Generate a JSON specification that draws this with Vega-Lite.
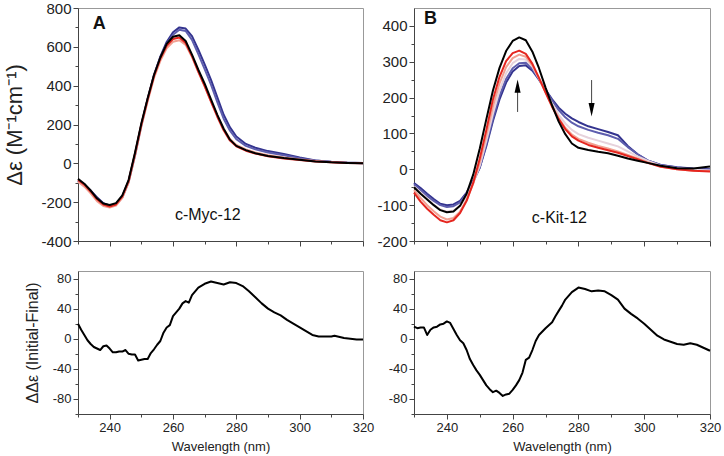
{
"$schema": "https://vega.github.io/schema/vega-lite/v6.json",
"padding": {"left": 3, "top": 0, "right": 2, "bottom": 2},
"background": "white",
"config": {"view": {"stroke": "#999999", "strokeWidth": 1}, "font": "Liberation Sans",
  "axis": {"grid": false, "domainColor": "#444444", "tickColor": "#444444", "labelColor": "#222222", "titleColor": "#222222", "titleFontWeight": "normal", "labelFlush": false, "labelOverlap": false, "labelPadding": 2}},
"datasets": {
"A": [
{"s":"b1","x":230,"y":-90},{"s":"b1","x":232,"y":-110},{"s":"b1","x":234,"y":-140},{"s":"b1","x":236,"y":-175},{"s":"b1","x":238,"y":-205},{"s":"b1","x":240,"y":-218},{"s":"b1","x":242,"y":-212},{"s":"b1","x":244,"y":-175},{"s":"b1","x":246,"y":-95},{"s":"b1","x":248,"y":40},{"s":"b1","x":250,"y":195},{"s":"b1","x":252,"y":330},{"s":"b1","x":254,"y":455},{"s":"b1","x":256,"y":550},{"s":"b1","x":258,"y":625},{"s":"b1","x":260,"y":675},{"s":"b1","x":262,"y":700},{"s":"b1","x":264,"y":694},{"s":"b1","x":266,"y":655},{"s":"b1","x":268,"y":585},{"s":"b1","x":270,"y":510},{"s":"b1","x":272,"y":430},{"s":"b1","x":274,"y":340},{"s":"b1","x":276,"y":250},{"s":"b1","x":278,"y":185},{"s":"b1","x":280,"y":138},{"s":"b1","x":283,"y":100},{"s":"b1","x":286,"y":80},{"s":"b1","x":290,"y":63},{"s":"b1","x":295,"y":48},{"s":"b1","x":300,"y":30},{"s":"b1","x":305,"y":15},{"s":"b1","x":310,"y":8},{"s":"b1","x":315,"y":4},{"s":"b1","x":320,"y":2},
{"s":"b2","x":230,"y":-92},{"s":"b2","x":232,"y":-112},{"s":"b2","x":234,"y":-143},{"s":"b2","x":236,"y":-178},{"s":"b2","x":238,"y":-207},{"s":"b2","x":240,"y":-218},{"s":"b2","x":242,"y":-210},{"s":"b2","x":244,"y":-170},{"s":"b2","x":246,"y":-90},{"s":"b2","x":248,"y":45},{"s":"b2","x":250,"y":198},{"s":"b2","x":252,"y":330},{"s":"b2","x":254,"y":452},{"s":"b2","x":256,"y":545},{"s":"b2","x":258,"y":615},{"s":"b2","x":260,"y":662},{"s":"b2","x":262,"y":688},{"s":"b2","x":264,"y":682},{"s":"b2","x":266,"y":636},{"s":"b2","x":268,"y":562},{"s":"b2","x":270,"y":485},{"s":"b2","x":272,"y":405},{"s":"b2","x":274,"y":315},{"s":"b2","x":276,"y":230},{"s":"b2","x":278,"y":168},{"s":"b2","x":280,"y":124},{"s":"b2","x":283,"y":90},{"s":"b2","x":286,"y":72},{"s":"b2","x":290,"y":56},{"s":"b2","x":295,"y":42},{"s":"b2","x":300,"y":26},{"s":"b2","x":305,"y":14},{"s":"b2","x":310,"y":7},{"s":"b2","x":315,"y":3},{"s":"b2","x":320,"y":1},
{"s":"r1","x":230,"y":-95},{"s":"r1","x":232,"y":-120},{"s":"r1","x":234,"y":-155},{"s":"r1","x":236,"y":-195},{"s":"r1","x":238,"y":-220},{"s":"r1","x":240,"y":-228},{"s":"r1","x":242,"y":-218},{"s":"r1","x":244,"y":-178},{"s":"r1","x":246,"y":-98},{"s":"r1","x":248,"y":40},{"s":"r1","x":250,"y":190},{"s":"r1","x":252,"y":320},{"s":"r1","x":254,"y":440},{"s":"r1","x":256,"y":528},{"s":"r1","x":258,"y":592},{"s":"r1","x":260,"y":626},{"s":"r1","x":262,"y":634},{"s":"r1","x":264,"y":610},{"s":"r1","x":266,"y":548},{"s":"r1","x":268,"y":470},{"s":"r1","x":270,"y":398},{"s":"r1","x":272,"y":320},{"s":"r1","x":274,"y":245},{"s":"r1","x":276,"y":178},{"s":"r1","x":278,"y":125},{"s":"r1","x":280,"y":95},{"s":"r1","x":283,"y":72},{"s":"r1","x":286,"y":56},{"s":"r1","x":290,"y":42},{"s":"r1","x":295,"y":30},{"s":"r1","x":300,"y":20},{"s":"r1","x":305,"y":12},{"s":"r1","x":310,"y":6},{"s":"r1","x":315,"y":3},{"s":"r1","x":320,"y":2},
{"s":"r2","x":230,"y":-85},{"s":"r2","x":232,"y":-110},{"s":"r2","x":234,"y":-145},{"s":"r2","x":236,"y":-185},{"s":"r2","x":238,"y":-212},{"s":"r2","x":240,"y":-222},{"s":"r2","x":242,"y":-212},{"s":"r2","x":244,"y":-170},{"s":"r2","x":246,"y":-90},{"s":"r2","x":248,"y":50},{"s":"r2","x":250,"y":200},{"s":"r2","x":252,"y":330},{"s":"r2","x":254,"y":450},{"s":"r2","x":256,"y":540},{"s":"r2","x":258,"y":605},{"s":"r2","x":260,"y":640},{"s":"r2","x":262,"y":648},{"s":"r2","x":264,"y":620},{"s":"r2","x":266,"y":552},{"s":"r2","x":268,"y":472},{"s":"r2","x":270,"y":398},{"s":"r2","x":272,"y":318},{"s":"r2","x":274,"y":240},{"s":"r2","x":276,"y":170},{"s":"r2","x":278,"y":117},{"s":"r2","x":280,"y":88},{"s":"r2","x":283,"y":65},{"s":"r2","x":286,"y":50},{"s":"r2","x":290,"y":36},{"s":"r2","x":295,"y":25},{"s":"r2","x":300,"y":17},{"s":"r2","x":305,"y":10},{"s":"r2","x":310,"y":5},{"s":"r2","x":315,"y":2},{"s":"r2","x":320,"y":0},
{"s":"k","x":230,"y":-80},{"s":"k","x":232,"y":-105},{"s":"k","x":234,"y":-140},{"s":"k","x":236,"y":-180},{"s":"k","x":238,"y":-207},{"s":"k","x":240,"y":-215},{"s":"k","x":242,"y":-205},{"s":"k","x":244,"y":-165},{"s":"k","x":246,"y":-85},{"s":"k","x":248,"y":55},{"s":"k","x":250,"y":205},{"s":"k","x":252,"y":335},{"s":"k","x":254,"y":455},{"s":"k","x":256,"y":545},{"s":"k","x":258,"y":615},{"s":"k","x":260,"y":652},{"s":"k","x":262,"y":660},{"s":"k","x":264,"y":630},{"s":"k","x":266,"y":560},{"s":"k","x":268,"y":482},{"s":"k","x":270,"y":410},{"s":"k","x":272,"y":330},{"s":"k","x":274,"y":250},{"s":"k","x":276,"y":178},{"s":"k","x":278,"y":122},{"s":"k","x":280,"y":90},{"s":"k","x":283,"y":68},{"s":"k","x":286,"y":52},{"s":"k","x":290,"y":38},{"s":"k","x":295,"y":27},{"s":"k","x":300,"y":18},{"s":"k","x":305,"y":10},{"s":"k","x":310,"y":5},{"s":"k","x":315,"y":2},{"s":"k","x":320,"y":0}
],
"B": [
{"s":"b1","x":230,"y":-38},{"s":"b1","x":232,"y":-52},{"s":"b1","x":234,"y":-68},{"s":"b1","x":236,"y":-83},{"s":"b1","x":238,"y":-96},{"s":"b1","x":240,"y":-100},{"s":"b1","x":242,"y":-98},{"s":"b1","x":244,"y":-88},{"s":"b1","x":246,"y":-65},{"s":"b1","x":248,"y":-32},{"s":"b1","x":250,"y":5},{"s":"b1","x":252,"y":65},{"s":"b1","x":254,"y":135},{"s":"b1","x":256,"y":195},{"s":"b1","x":258,"y":242},{"s":"b1","x":260,"y":273},{"s":"b1","x":262,"y":288},{"s":"b1","x":264,"y":290},{"s":"b1","x":266,"y":275},{"s":"b1","x":268,"y":250},{"s":"b1","x":270,"y":222},{"s":"b1","x":272,"y":195},{"s":"b1","x":274,"y":172},{"s":"b1","x":276,"y":155},{"s":"b1","x":278,"y":142},{"s":"b1","x":280,"y":132},{"s":"b1","x":283,"y":120},{"s":"b1","x":286,"y":112},{"s":"b1","x":289,"y":104},{"s":"b1","x":292,"y":95},{"s":"b1","x":295,"y":65},{"s":"b1","x":298,"y":42},{"s":"b1","x":301,"y":25},{"s":"b1","x":305,"y":12},{"s":"b1","x":310,"y":6},{"s":"b1","x":315,"y":2},{"s":"b1","x":320,"y":0},
{"s":"b2","x":230,"y":-42},{"s":"b2","x":232,"y":-58},{"s":"b2","x":234,"y":-74},{"s":"b2","x":236,"y":-88},{"s":"b2","x":238,"y":-100},{"s":"b2","x":240,"y":-105},{"s":"b2","x":242,"y":-103},{"s":"b2","x":244,"y":-92},{"s":"b2","x":246,"y":-68},{"s":"b2","x":248,"y":-35},{"s":"b2","x":250,"y":5},{"s":"b2","x":252,"y":70},{"s":"b2","x":254,"y":142},{"s":"b2","x":256,"y":205},{"s":"b2","x":258,"y":252},{"s":"b2","x":260,"y":282},{"s":"b2","x":262,"y":296},{"s":"b2","x":264,"y":297},{"s":"b2","x":266,"y":280},{"s":"b2","x":268,"y":252},{"s":"b2","x":270,"y":222},{"s":"b2","x":272,"y":192},{"s":"b2","x":274,"y":165},{"s":"b2","x":276,"y":145},{"s":"b2","x":278,"y":130},{"s":"b2","x":280,"y":120},{"s":"b2","x":283,"y":110},{"s":"b2","x":286,"y":102},{"s":"b2","x":289,"y":95},{"s":"b2","x":292,"y":85},{"s":"b2","x":295,"y":62},{"s":"b2","x":298,"y":42},{"s":"b2","x":301,"y":25},{"s":"b2","x":305,"y":12},{"s":"b2","x":310,"y":5},{"s":"b2","x":315,"y":1},{"s":"b2","x":320,"y":-1},
{"s":"p","x":230,"y":-48},{"s":"p","x":232,"y":-65},{"s":"p","x":234,"y":-82},{"s":"p","x":236,"y":-98},{"s":"p","x":238,"y":-112},{"s":"p","x":240,"y":-118},{"s":"p","x":242,"y":-115},{"s":"p","x":244,"y":-102},{"s":"p","x":246,"y":-75},{"s":"p","x":248,"y":-38},{"s":"p","x":250,"y":10},{"s":"p","x":252,"y":80},{"s":"p","x":254,"y":155},{"s":"p","x":256,"y":220},{"s":"p","x":258,"y":268},{"s":"p","x":260,"y":296},{"s":"p","x":262,"y":308},{"s":"p","x":264,"y":306},{"s":"p","x":266,"y":286},{"s":"p","x":268,"y":253},{"s":"p","x":270,"y":218},{"s":"p","x":272,"y":183},{"s":"p","x":274,"y":152},{"s":"p","x":276,"y":128},{"s":"p","x":278,"y":110},{"s":"p","x":280,"y":98},{"s":"p","x":283,"y":88},{"s":"p","x":286,"y":80},{"s":"p","x":289,"y":72},{"s":"p","x":292,"y":64},{"s":"p","x":295,"y":50},{"s":"p","x":298,"y":36},{"s":"p","x":301,"y":24},{"s":"p","x":305,"y":10},{"s":"p","x":310,"y":3},{"s":"p","x":315,"y":-1},{"s":"p","x":320,"y":-3},
{"s":"r1","x":230,"y":-58},{"s":"r1","x":232,"y":-80},{"s":"r1","x":234,"y":-100},{"s":"r1","x":236,"y":-117},{"s":"r1","x":238,"y":-132},{"s":"r1","x":240,"y":-140},{"s":"r1","x":242,"y":-136},{"s":"r1","x":244,"y":-118},{"s":"r1","x":246,"y":-85},{"s":"r1","x":248,"y":-40},{"s":"r1","x":250,"y":20},{"s":"r1","x":252,"y":95},{"s":"r1","x":254,"y":175},{"s":"r1","x":256,"y":240},{"s":"r1","x":258,"y":285},{"s":"r1","x":260,"y":310},{"s":"r1","x":262,"y":320},{"s":"r1","x":264,"y":314},{"s":"r1","x":266,"y":290},{"s":"r1","x":268,"y":254},{"s":"r1","x":270,"y":215},{"s":"r1","x":272,"y":177},{"s":"r1","x":274,"y":143},{"s":"r1","x":276,"y":116},{"s":"r1","x":278,"y":97},{"s":"r1","x":280,"y":85},{"s":"r1","x":283,"y":74},{"s":"r1","x":286,"y":65},{"s":"r1","x":289,"y":58},{"s":"r1","x":292,"y":50},{"s":"r1","x":295,"y":40},{"s":"r1","x":298,"y":30},{"s":"r1","x":301,"y":20},{"s":"r1","x":305,"y":8},{"s":"r1","x":310,"y":0},{"s":"r1","x":315,"y":-4},{"s":"r1","x":320,"y":-5},
{"s":"r2","x":230,"y":-65},{"s":"r2","x":232,"y":-90},{"s":"r2","x":234,"y":-110},{"s":"r2","x":236,"y":-127},{"s":"r2","x":238,"y":-142},{"s":"r2","x":240,"y":-148},{"s":"r2","x":242,"y":-142},{"s":"r2","x":244,"y":-122},{"s":"r2","x":246,"y":-88},{"s":"r2","x":248,"y":-38},{"s":"r2","x":250,"y":30},{"s":"r2","x":252,"y":110},{"s":"r2","x":254,"y":195},{"s":"r2","x":256,"y":258},{"s":"r2","x":258,"y":302},{"s":"r2","x":260,"y":324},{"s":"r2","x":262,"y":331},{"s":"r2","x":264,"y":322},{"s":"r2","x":266,"y":294},{"s":"r2","x":268,"y":255},{"s":"r2","x":270,"y":214},{"s":"r2","x":272,"y":174},{"s":"r2","x":274,"y":140},{"s":"r2","x":276,"y":112},{"s":"r2","x":278,"y":92},{"s":"r2","x":280,"y":80},{"s":"r2","x":283,"y":68},{"s":"r2","x":286,"y":60},{"s":"r2","x":289,"y":53},{"s":"r2","x":292,"y":46},{"s":"r2","x":295,"y":37},{"s":"r2","x":298,"y":28},{"s":"r2","x":301,"y":18},{"s":"r2","x":305,"y":7},{"s":"r2","x":310,"y":0},{"s":"r2","x":315,"y":-4},{"s":"r2","x":320,"y":-6},
{"s":"k","x":230,"y":-50},{"s":"k","x":232,"y":-68},{"s":"k","x":234,"y":-84},{"s":"k","x":236,"y":-100},{"s":"k","x":238,"y":-114},{"s":"k","x":240,"y":-120},{"s":"k","x":242,"y":-118},{"s":"k","x":244,"y":-102},{"s":"k","x":246,"y":-68},{"s":"k","x":248,"y":-15},{"s":"k","x":250,"y":58},{"s":"k","x":252,"y":140},{"s":"k","x":254,"y":220},{"s":"k","x":256,"y":283},{"s":"k","x":258,"y":330},{"s":"k","x":260,"y":358},{"s":"k","x":262,"y":368},{"s":"k","x":264,"y":360},{"s":"k","x":266,"y":328},{"s":"k","x":268,"y":282},{"s":"k","x":270,"y":228},{"s":"k","x":272,"y":178},{"s":"k","x":274,"y":133},{"s":"k","x":276,"y":98},{"s":"k","x":278,"y":72},{"s":"k","x":280,"y":60},{"s":"k","x":283,"y":54},{"s":"k","x":286,"y":49},{"s":"k","x":289,"y":45},{"s":"k","x":292,"y":38},{"s":"k","x":295,"y":30},{"s":"k","x":298,"y":24},{"s":"k","x":301,"y":18},{"s":"k","x":305,"y":10},{"s":"k","x":310,"y":3},{"s":"k","x":315,"y":2},{"s":"k","x":320,"y":8}
],
"C": [
{"x":230,"y":20},{"x":231,"y":12},{"x":232,"y":5},{"x":233,"y":-2},{"x":234,"y":-7},{"x":235,"y":-11},{"x":236,"y":-13},{"x":237,"y":-15},{"x":238,"y":-10},{"x":239,"y":-9},{"x":240,"y":-13},{"x":241,"y":-18},{"x":242,"y":-18},{"x":243,"y":-17},{"x":244,"y":-17},{"x":245,"y":-15},{"x":246,"y":-20},{"x":247,"y":-21},{"x":248,"y":-21},{"x":249,"y":-29},{"x":250,"y":-28},{"x":251,"y":-27},{"x":252,"y":-27},{"x":253,"y":-19},{"x":254,"y":-14},{"x":255,"y":-8},{"x":256,"y":-3},{"x":257,"y":8},{"x":258,"y":15},{"x":259,"y":18},{"x":260,"y":30},{"x":261,"y":35},{"x":262,"y":40},{"x":263,"y":47},{"x":264,"y":50},{"x":265,"y":48},{"x":266,"y":58},{"x":267,"y":63},{"x":268,"y":68},{"x":270,"y":73},{"x":272,"y":76},{"x":274,"y":74},{"x":276,"y":72},{"x":278,"y":75},{"x":280,"y":74},{"x":282,"y":70},{"x":284,"y":63},{"x":286,"y":55},{"x":288,"y":47},{"x":290,"y":40},{"x":292,"y":35},{"x":294,"y":31},{"x":296,"y":25},{"x":298,"y":20},{"x":300,"y":15},{"x":302,"y":10},{"x":304,"y":5},{"x":306,"y":3},{"x":308,"y":3},{"x":310,"y":3},{"x":311,"y":4},{"x":312,"y":3},{"x":314,"y":1},{"x":316,"y":0},{"x":318,"y":-1},{"x":320,"y":-1}
],
"D": [
{"x":230,"y":16},{"x":231,"y":14},{"x":232,"y":15},{"x":233,"y":15},{"x":234,"y":5},{"x":235,"y":12},{"x":236,"y":15},{"x":237,"y":16},{"x":238,"y":19},{"x":239,"y":20},{"x":240,"y":23},{"x":241,"y":21},{"x":242,"y":13},{"x":243,"y":5},{"x":244,"y":-2},{"x":245,"y":-6},{"x":246,"y":-15},{"x":247,"y":-27},{"x":248,"y":-35},{"x":249,"y":-42},{"x":250,"y":-48},{"x":251,"y":-55},{"x":252,"y":-62},{"x":253,"y":-67},{"x":254,"y":-71},{"x":255,"y":-69},{"x":256,"y":-72},{"x":257,"y":-76},{"x":258,"y":-74},{"x":259,"y":-73},{"x":260,"y":-68},{"x":261,"y":-62},{"x":262,"y":-55},{"x":263,"y":-45},{"x":264,"y":-28},{"x":265,"y":-25},{"x":266,"y":-15},{"x":267,"y":-3},{"x":268,"y":5},{"x":270,"y":14},{"x":272,"y":22},{"x":273,"y":30},{"x":274,"y":37},{"x":275,"y":44},{"x":276,"y":52},{"x":278,"y":62},{"x":280,"y":68},{"x":282,"y":66},{"x":284,"y":63},{"x":286,"y":64},{"x":288,"y":63},{"x":290,"y":58},{"x":292,"y":52},{"x":293,"y":46},{"x":294,"y":40},{"x":296,"y":33},{"x":298,"y":27},{"x":300,"y":20},{"x":302,"y":12},{"x":304,"y":4},{"x":306,"y":-1},{"x":308,"y":-4},{"x":310,"y":-7},{"x":312,"y":-8},{"x":314,"y":-6},{"x":316,"y":-8},{"x":318,"y":-12},{"x":320,"y":-16}
],
"LAB": [
{"p":"A","x":271,"y":-266,"t":"c-Myc-12"},
{"p":"B","x":274.2,"y":-135,"t":"c-Kit-12"}
],
"LET": [
{"p":"A","x":236.7,"y":719,"t":"A"},
{"p":"B","x":235,"y":420,"t":"B"}
],
"ARR": [
{"x":261.5,"y":160,"y2":235,"d":"up"},
{"x":284,"y":249,"y2":168,"d":"down"}
],
"HEAD": [
{"x":261.5,"y":232,"d":"up"},
{"x":284,"y":166,"d":"down"}
]
},
"columns": 2,
"spacing": {"row": 20, "column": 1},
"concat": [
{
 "width": 285, "height": 233,
 "encoding": {
  "x": {"field": "x", "type": "quantitative", "scale": {"domain": [230, 320], "nice": false},
    "axis": {"values": [230,240,250,260,270,280,290,300,310,320], "labels": false, "title": null,
      "tickSize": {"condition": {"test": "datum.value % 20 == 0", "value": 5}, "value": 3}}},
  "y": {"field": "y", "type": "quantitative", "scale": {"domain": [-400, 800], "nice": false},
    "axis": {"values": [-400,-300,-200,-100,0,100,200,300,400,500,600,700,800], "labelOverlap": false,
      "labelExpr": "datum.value % 200 == 0 ? '' + datum.value : ''", "labelFontSize": 15,
      "tickSize": {"condition": {"test": "datum.value % 200 == 0", "value": 5}, "value": 3},
      "title": "Δε (M⁻¹cm⁻¹)", "titleFontSize": 22, "titlePadding": 14}}
 },
 "layer": [
  {"data": {"name": "A"}, "mark": {"type": "line", "strokeJoin": "round"},
   "encoding": {
    "color": {"field": "s", "type": "nominal", "legend": null,
      "scale": {"domain": ["b1","b2","p","r1","r2","k"], "range": ["#34348f","#5e5eae","#e6d2dc","#f2a092","#e5261f","#000000"]}},
    "strokeWidth": {"field": "s", "type": "nominal", "legend": null,
      "scale": {"domain": ["b1","b2","p","r1","r2","k"], "range": [2, 2, 2, 3, 2.5, 2]}}
   }},
  {"data": {"name": "LAB"}, "transform": [{"filter": "datum.p == 'A'"}],
   "mark": {"type": "text", "fontSize": 16, "color": "#111111"},
   "encoding": {"text": {"field": "t"}}},
  {"data": {"name": "LET"}, "transform": [{"filter": "datum.p == 'A'"}],
   "mark": {"type": "text", "fontSize": 18, "fontWeight": "bold", "color": "#111111"},
   "encoding": {"text": {"field": "t"}}}
 ]
},
{
 "width": 296, "height": 233,
 "encoding": {
  "x": {"field": "x", "type": "quantitative", "scale": {"domain": [230, 320], "nice": false},
    "axis": {"values": [230,240,250,260,270,280,290,300,310,320], "labels": false, "title": null,
      "tickSize": {"condition": {"test": "datum.value % 20 == 0", "value": 5}, "value": 3}}},
  "y": {"field": "y", "type": "quantitative", "scale": {"domain": [-200, 450], "nice": false},
    "axis": {"values": [-200,-150,-100,-50,0,50,100,150,200,250,300,350,400], "labelOverlap": false,
      "labelExpr": "datum.value % 100 == 0 ? '' + datum.value : ''", "labelFontSize": 15,
      "tickSize": {"condition": {"test": "datum.value % 100 == 0", "value": 5}, "value": 3},
      "title": null}}
 },
 "layer": [
  {"data": {"name": "B"}, "mark": {"type": "line", "strokeJoin": "round"},
   "encoding": {
    "color": {"field": "s", "type": "nominal", "legend": null,
      "scale": {"domain": ["b1","b2","p","r1","r2","k"], "range": ["#34348f","#5e5eae","#e6d2dc","#f2a092","#e5261f","#000000"]}},
    "strokeWidth": {"field": "s", "type": "nominal", "legend": null,
      "scale": {"domain": ["b1","b2","p","r1","r2","k"], "range": [2, 2, 2, 3, 2.5, 2]}}
   }},
  {"data": {"name": "ARR"}, "mark": {"type": "rule", "color": "#444444", "strokeWidth": 1},
   "encoding": {"y2": {"field": "y2"}}},
  {"data": {"name": "HEAD"}, "mark": {"type": "point", "filled": true, "color": "#000000", "opacity": 1, "size": 180},
   "encoding": {
     "shape": {"field": "d", "type": "nominal", "legend": null,
       "scale": {"domain": ["up", "down"], "range": ["M0,-1L0.45,1L-0.45,1Z", "M0,1L0.45,-1L-0.45,-1Z"]}}}},
  {"data": {"name": "LAB"}, "transform": [{"filter": "datum.p == 'B'"}],
   "mark": {"type": "text", "fontSize": 16, "color": "#111111"},
   "encoding": {"text": {"field": "t"}}},
  {"data": {"name": "LET"}, "transform": [{"filter": "datum.p == 'B'"}],
   "mark": {"type": "text", "fontSize": 18, "fontWeight": "bold", "color": "#111111"},
   "encoding": {"text": {"field": "t"}}}
 ]
},
{
 "width": 285, "height": 143,
 "data": {"name": "C"},
 "mark": {"type": "line", "color": "#000000", "strokeWidth": 2, "strokeJoin": "round"},
 "encoding": {
  "x": {"field": "x", "type": "quantitative", "scale": {"domain": [230, 320], "nice": false},
    "axis": {"values": [230,240,250,260,270,280,290,300,310,320], "labelExpr": "datum.value % 20 == 0 ? '' + datum.value : ''",
      "labelFontSize": 13, "title": "Wavelength (nm)", "titleFontSize": 13, "titlePadding": 6, "labelOverlap": false,
      "tickSize": {"condition": {"test": "datum.value % 20 == 0", "value": 5}, "value": 3}}},
  "y": {"field": "y", "type": "quantitative", "scale": {"domain": [-100, 90], "nice": false},
    "axis": {"values": [-100,-80,-60,-40,-20,0,20,40,60,80], "labelOverlap": false,
      "labelExpr": "datum.value % 40 == 0 ? '' + datum.value : ''", "labelFontSize": 13,
      "tickSize": {"condition": {"test": "datum.value % 40 == 0", "value": 5}, "value": 3},
      "title": "ΔΔε (Initial-Final)", "titleFontSize": 16, "titlePadding": 12}}
 }
},
{
 "width": 296, "height": 143,
 "data": {"name": "D"},
 "mark": {"type": "line", "color": "#000000", "strokeWidth": 2, "strokeJoin": "round"},
 "encoding": {
  "x": {"field": "x", "type": "quantitative", "scale": {"domain": [230, 320], "nice": false},
    "axis": {"values": [230,240,250,260,270,280,290,300,310,320], "labelExpr": "datum.value % 20 == 0 ? '' + datum.value : ''",
      "labelFontSize": 13, "title": "Wavelength (nm)", "titleFontSize": 13, "titlePadding": 6, "labelOverlap": false,
      "tickSize": {"condition": {"test": "datum.value % 20 == 0", "value": 5}, "value": 3}}},
  "y": {"field": "y", "type": "quantitative", "scale": {"domain": [-100, 90], "nice": false},
    "axis": {"values": [-100,-80,-60,-40,-20,0,20,40,60,80], "labelOverlap": false,
      "labelExpr": "datum.value % 40 == 0 ? '' + datum.value : ''", "labelFontSize": 13,
      "tickSize": {"condition": {"test": "datum.value % 40 == 0", "value": 5}, "value": 3},
      "title": null}}
 }
}
]
}
